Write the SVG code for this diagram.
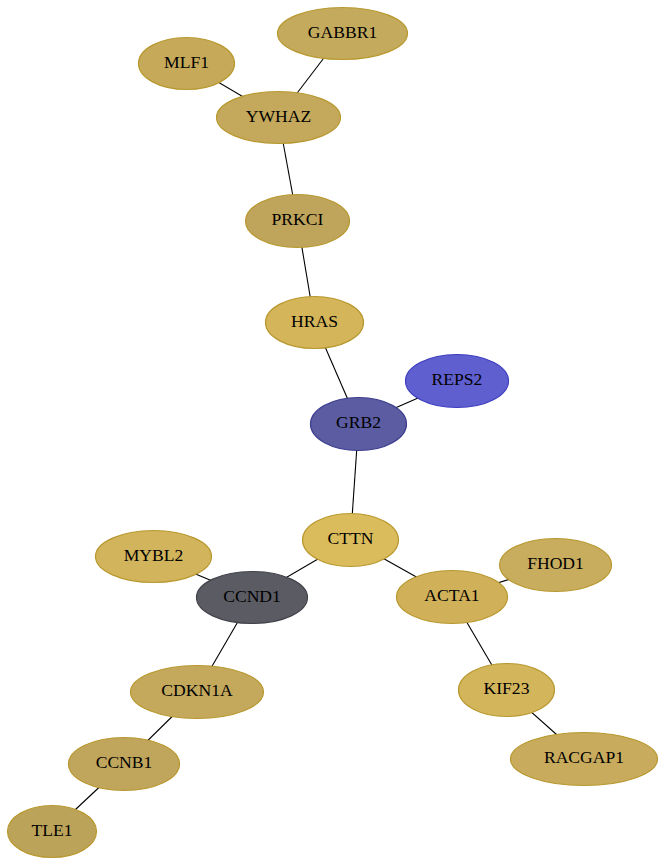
<svg xmlns="http://www.w3.org/2000/svg" width="664" height="865" viewBox="0 0 664 865">
<style>
.e line{stroke:#000;stroke-width:1.1}
.n ellipse{stroke-width:1.2}
.gold ellipse{stroke:#b8982e}
text{font-family:"Liberation Serif","Times New Roman",serif;font-size:17.6px;fill:#000;text-anchor:middle}
</style>
<rect width="664" height="865" fill="#fff"/>
<g id="edges" class="e">
<line x1="342.5" y1="33.5" x2="278.5" y2="117.5"/>
<line x1="186.5" y1="63.5" x2="278.5" y2="117.5"/>
<line x1="278.5" y1="117.5" x2="297.5" y2="221"/>
<line x1="297.5" y1="221" x2="314.5" y2="322.5"/>
<line x1="314.5" y1="322.5" x2="358.5" y2="424"/>
<line x1="358.5" y1="424" x2="457" y2="381"/>
<line x1="358.5" y1="424" x2="350.5" y2="540"/>
<line x1="350.5" y1="540" x2="252" y2="597.5"/>
<line x1="350.5" y1="540" x2="452" y2="597"/>
<line x1="153.5" y1="556.5" x2="252" y2="597.5"/>
<line x1="252" y1="597.5" x2="197" y2="692"/>
<line x1="197" y1="692" x2="124" y2="764"/>
<line x1="124" y1="764" x2="52" y2="831.5"/>
<line x1="452" y1="597" x2="555.5" y2="565"/>
<line x1="452" y1="597" x2="506.5" y2="690"/>
<line x1="506.5" y1="690" x2="584" y2="759"/>
</g>
<g id="GABBR1" class="n gold"><ellipse cx="342.5" cy="33.5" rx="65" ry="26" fill="#c4aa5c"/><text x="342.5" y="37.5">GABBR1</text></g>
<g id="MLF1" class="n gold"><ellipse cx="186.5" cy="63.5" rx="48" ry="26" fill="#c6aa5a"/><text x="186.5" y="67.5">MLF1</text></g>
<g id="YWHAZ" class="n gold"><ellipse cx="278.5" cy="117.5" rx="62" ry="26" fill="#c4a95c"/><text x="278.5" y="121.5">YWHAZ</text></g>
<g id="PRKCI" class="n gold"><ellipse cx="297.5" cy="221" rx="52" ry="26.5" fill="#bfa45b"/><text x="297.5" y="225">PRKCI</text></g>
<g id="HRAS" class="n gold"><ellipse cx="314.5" cy="322.5" rx="49" ry="26" fill="#d4b55a"/><text x="314.5" y="326.5">HRAS</text></g>
<g id="REPS2" class="n"><ellipse cx="457" cy="381" rx="51.5" ry="26.5" fill="#5f5fcf" stroke="#3e3ec0"/><text x="457" y="385">REPS2</text></g>
<g id="GRB2" class="n"><ellipse cx="358.5" cy="424" rx="48" ry="26.5" fill="#5c5ca2" stroke="#3c3c90"/><text x="358.5" y="428">GRB2</text></g>
<g id="CTTN" class="n gold"><ellipse cx="350.5" cy="540" rx="48" ry="26.5" fill="#dbbc5c"/><text x="350.5" y="544">CTTN</text></g>
<g id="MYBL2" class="n gold"><ellipse cx="153.5" cy="556.5" rx="58" ry="26" fill="#d2b45c"/><text x="153.5" y="560.5">MYBL2</text></g>
<g id="CCND1" class="n"><ellipse cx="252" cy="597.5" rx="55.5" ry="26" fill="#5b5b63" stroke="#42424a"/><text x="252" y="601.5">CCND1</text></g>
<g id="CDKN1A" class="n gold"><ellipse cx="197" cy="692" rx="66.5" ry="26.5" fill="#c4a85c"/><text x="197" y="696">CDKN1A</text></g>
<g id="CCNB1" class="n gold"><ellipse cx="124" cy="764" rx="55.5" ry="26.5" fill="#c0a55c"/><text x="124" y="768">CCNB1</text></g>
<g id="TLE1" class="n gold"><ellipse cx="52" cy="831.5" rx="44.5" ry="26" fill="#bca35a"/><text x="52" y="835.5">TLE1</text></g>
<g id="FHOD1" class="n gold"><ellipse cx="555.5" cy="565" rx="56" ry="26.5" fill="#c8ad5f"/><text x="555.5" y="569">FHOD1</text></g>
<g id="ACTA1" class="n gold"><ellipse cx="452" cy="597" rx="55.5" ry="26.5" fill="#d0b15a"/><text x="452" y="601">ACTA1</text></g>
<g id="KIF23" class="n gold"><ellipse cx="506.5" cy="690" rx="48" ry="26.5" fill="#d3b55c"/><text x="506.5" y="694">KIF23</text></g>
<g id="RACGAP1" class="n gold"><ellipse cx="584" cy="759" rx="73.5" ry="26.5" fill="#c8ab5c"/><text x="584" y="763">RACGAP1</text></g>
</svg>
